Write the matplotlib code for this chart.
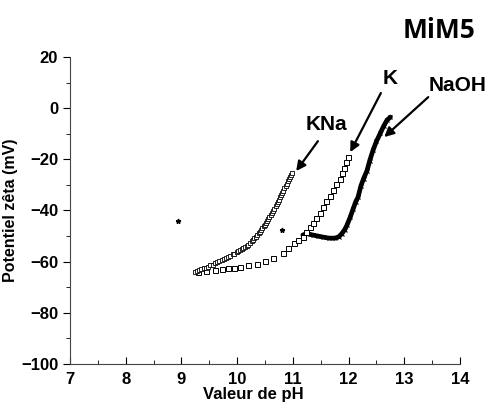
import matplotlib
matplotlib.use('Agg')
import matplotlib.pyplot as plt
from matplotlib.ticker import MultipleLocator

plt.rcParams['font.family'] = ['Liberation Sans', 'DejaVu Sans']

## data
kna_ph = [9.24, 9.28, 9.32, 9.36, 9.40, 9.44, 9.48, 9.52, 9.56, 9.60, 9.64, 9.68, 9.72, 9.76,
          9.80, 9.84, 9.88, 9.92, 9.95, 9.99, 10.02, 10.05, 10.08, 10.11, 10.14, 10.17,
          10.20, 10.23, 10.26, 10.29, 10.31, 10.34, 10.36, 10.39, 10.41, 10.43, 10.45, 10.48,
          10.50, 10.52, 10.54, 10.56, 10.58, 10.61, 10.63, 10.65, 10.67, 10.69, 10.71, 10.73,
          10.75, 10.77, 10.79, 10.81, 10.83, 10.85, 10.87, 10.89, 10.91, 10.93, 10.95, 10.97,
          10.99]
kna_mv = [-64.0, -63.6, -63.3, -63.0, -62.6, -62.3, -61.9, -61.5, -61.2, -60.7, -60.2, -59.8,
          -59.4, -58.9, -58.5, -58.0, -57.6, -57.2, -56.9, -56.4, -56.0, -55.6, -55.2, -54.8,
          -54.3, -53.8, -53.3, -52.7, -52.0, -51.4, -50.8, -50.2, -49.6, -48.9, -48.3, -47.6,
          -47.0, -46.2, -45.5, -44.7, -44.0, -43.2, -42.5, -41.7, -41.0, -40.1, -39.3, -38.4,
          -37.6, -36.7, -35.8, -34.9, -34.0, -33.1, -32.2, -31.3, -30.4, -29.5, -28.6, -27.8,
          -27.0, -26.2, -25.5]
kna_out_ph = [8.94]
kna_out_mv = [-44.1]

k_ph = [9.30, 9.45, 9.60, 9.73, 9.84, 9.94, 10.05, 10.20, 10.35, 10.50, 10.65, 10.82, 10.92,
        11.02, 11.10, 11.18, 11.24, 11.30, 11.36, 11.42, 11.48, 11.54, 11.60, 11.66, 11.72,
        11.78, 11.84, 11.88, 11.92, 11.96, 11.99]
k_mv = [-64.0, -63.5, -63.2, -62.9, -62.6, -62.3, -62.0, -61.5, -60.8, -59.8, -58.6, -56.5,
        -54.8, -52.8, -51.5, -50.2, -48.3, -46.6, -44.9, -42.8, -40.8, -38.7, -36.4, -34.2,
        -32.0, -29.8, -27.5, -25.4, -23.2, -21.0, -19.1]
k_out_ph = [10.81]
k_out_mv = [-47.7]

naoh_ph = [11.18, 11.25, 11.36, 11.45, 11.54, 11.65, 11.76, 11.83, 11.88, 11.93, 11.97,
           12.03, 12.08, 12.13, 12.17, 12.22, 12.27, 12.33, 12.38, 12.44, 12.50, 12.57,
           12.63, 12.69, 12.75]
naoh_mv = [-49.6, -49.0, -49.6, -50.0, -50.4, -50.8, -50.8, -50.2, -49.0, -47.5, -45.8,
           -42.6, -39.5, -36.5, -34.8, -30.5, -27.5, -24.5, -20.5, -16.4, -13.0, -9.8,
           -7.0, -4.7, -3.5]

fig = plt.figure(figsize=(4.88, 4.12), dpi=100)
ax = fig.add_axes([0.1434, 0.1165, 0.7992, 0.7452])

ax.plot(naoh_ph, naoh_mv, color='black', lw=3.4, solid_capstyle='round')
ax.plot(naoh_ph, naoh_mv, 'x', color='black', ms=3, mew=0.8)
ax.plot(k_ph, k_mv, 's', mfc='white', mec='black', ms=3.6, mew=0.7)
ax.plot(kna_ph, kna_mv, color='black', lw=0.8)
ax.plot(kna_ph, kna_mv, 's', mfc='white', mec='black', ms=2.8, mew=0.6)
ax.plot(kna_out_ph, kna_out_mv, '*', color='black', ms=3.5)
ax.plot(k_out_ph, k_out_mv, '*', color='black', ms=3.5)

ax.set_xlim(7, 14)
ax.set_ylim(-100, 20)
ax.xaxis.set_major_locator(MultipleLocator(1))
ax.xaxis.set_minor_locator(MultipleLocator(0.5))
ax.yaxis.set_major_locator(MultipleLocator(20))
ax.yaxis.set_minor_locator(MultipleLocator(10))
ax.tick_params(axis='x', which='both', direction='in', labelsize=12, pad=6)
ax.tick_params(axis='x', which='major', length=5)
ax.tick_params(axis='x', which='minor', length=3)
ax.tick_params(axis='y', which='both', direction='out', labelsize=12)
ax.tick_params(axis='y', which='major', length=5)
ax.tick_params(axis='y', which='minor', length=3)
for lab in ax.get_xticklabels() + ax.get_yticklabels():
    lab.set_fontweight('bold')
ax.spines['top'].set_visible(False)
ax.spines['right'].set_visible(False)
for s in ['left', 'bottom']:
    ax.spines[s].set_color('#444444')

ax.set_xlabel('Valeur de pH', fontsize=12, fontweight='bold', labelpad=0)
ax.xaxis.set_label_coords(0.47, -0.075)
ax.set_ylabel('Potentiel zêta (mV)', fontsize=11.5, fontweight='bold', labelpad=2)

# labels and arrows
arrow = dict(arrowstyle='-|>', color='black', lw=1.6, mutation_scale=14, shrinkA=0, shrinkB=0)
ax.text(11.61, -6.3, 'KNa', fontsize=15, fontweight='bold', ha='center', va='center')
ax.annotate('', xy=(11.06, -24.6), xytext=(11.45, -12.9), arrowprops=arrow)
ax.text(12.75, 11.7, 'K', fontsize=15, fontweight='bold', ha='center', va='center')
ax.annotate('', xy=(12.03, -17.2), xytext=(12.58, 5.9), arrowprops=arrow)
ax.text(13.95, 9.0, 'NaOH', fontsize=15, fontweight='bold', ha='center', va='center')
ax.annotate('', xy=(12.64, -11.3), xytext=(13.43, 4.3), arrowprops=arrow)

fig.text(0.9, 0.927, 'MiM5', fontsize=19, fontweight='bold', ha='center', va='center',
         family=['Open Sans', 'DejaVu Sans'])

fig.savefig('out.png', dpi=100)
